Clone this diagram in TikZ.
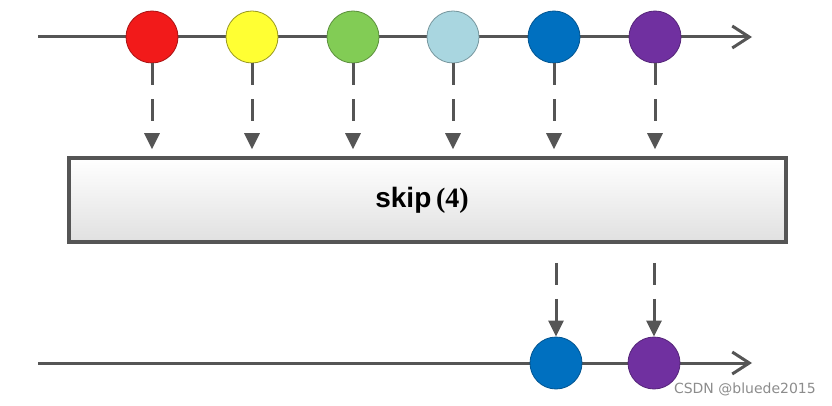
\documentclass[tikz,border=0pt]{standalone}
\usepackage{fontspec}
\setmainfont{Liberation Sans}
\newfontfamily\serfont{Liberation Serif}
\newfontfamily\wmfont{DejaVu Sans}
\usetikzlibrary{arrows.meta,shadows}
\definecolor{linegray}{HTML}{555555}
\definecolor{cred}{HTML}{F21A1A}
\definecolor{cyellow}{HTML}{FFFF33}
\definecolor{cgreen}{HTML}{82CC55}
\definecolor{clblue}{HTML}{A9D6E0}
\definecolor{cblue}{HTML}{0070C0}
\definecolor{cpurple}{HTML}{7030A0}
\tikzset{
  x=1pt,y=-1pt,
  timeline/.style={draw=linegray,line width=3pt,-{Straight Barb[length=17pt,width=22pt,line width=3pt]}},
  marble/.style={circle,minimum size=52pt,inner sep=0pt,line width=0.8pt},
  feed/.style={draw=linegray,line width=3pt,dash pattern=on 22pt off 14pt,-{Triangle[length=16pt,width=15pt]}},
  opbox/.style={draw=linegray,line width=3.5pt,top color=white,bottom color=black!12,minimum width=717pt,minimum height=84pt,inner sep=0pt}
}
\begin{document}
\begin{tikzpicture}
\useasboundingbox (0,0) rectangle (832,406);
% top timeline
\coordinate (ts) at (38,37);
\coordinate (te) at (752,37);
\draw[timeline] (ts) -- (te);
\node[marble,fill=cred,draw=cred!70!black] (m1) at (152,37) {};
\node[marble,fill=cyellow,draw=cyellow!60!black] (m2) at (252,37) {};
\node[marble,fill=cgreen,draw=cgreen!70!black] (m3) at (353,37) {};
\node[marble,fill=clblue,draw=clblue!70!black] (m4) at (453,37) {};
\node[marble,fill=cblue,draw=cblue!75!black] (m5) at (554,37) {};
\node[marble,fill=cpurple,draw=cpurple!75!black] (m6) at (655,37) {};
% operator box
\node[opbox] (op) at (427.5,200) {};
\node[inner sep=0pt] (lbl) at (422,200) {\bfseries\fontsize{28}{32}\selectfont skip\,{\serfont(4)}};
% feed arrows
\foreach \i in {1,...,6} {
  \coordinate (t\i) at (m\i.south |- op.north);
  \draw[feed,shorten >=7pt] (m\i.south) -- (t\i);
}
% bottom timeline
\coordinate (bs) at (38,363);
\coordinate (be) at (752,363);
\draw[timeline] (bs) -- (be);
\node[marble,fill=cblue,draw=cblue!75!black] (o1) at (556,363) {};
\node[marble,fill=cpurple,draw=cpurple!75!black] (o2) at (654,363) {};
\coordinate (s1) at (o1.north |- op.south);
\coordinate (s2) at (o2.north |- op.south);
\draw[feed,shorten <=19pt] (s1) -- (o1.north);
\draw[feed,shorten <=19pt] (s2) -- (o2.north);
% watermark
\node[anchor=east,text=black!45,font=\wmfont\fontsize{14}{16}\selectfont,inner sep=0pt] (wm) at (816,389) {CSDN @bluede2015};
\end{tikzpicture}
\end{document}
